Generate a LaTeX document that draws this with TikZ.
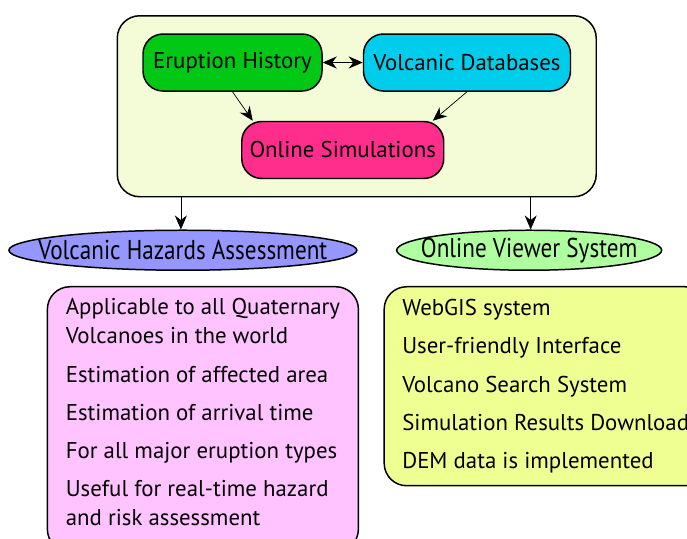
\documentclass[tikz,border=0pt]{standalone}
\usepackage{fontspec}
\setmainfont{PT Sans}
\newfontfamily\narrowfont[FakeStretch=0.85]{PT Sans}
\usetikzlibrary{shapes,arrows,positioning,calc,fit,backgrounds}
\usetikzlibrary{arrows.meta}
\tikzset{>={Stealth[width=2.4mm,length=2.8mm]}}

\definecolor{eruptgreen}{RGB}{0,200,20}
\definecolor{dbcyan}{RGB}{0,204,235}
\definecolor{simpink}{RGB}{255,45,140}
\definecolor{framefill}{RGB}{244,252,215}
\definecolor{hazblue}{RGB}{150,150,255}
\definecolor{viewgreen}{RGB}{175,255,160}
\definecolor{hazlistfill}{RGB}{255,195,255}
\definecolor{viewlistfill}{RGB}{240,255,145}

\begin{document}
\begin{tikzpicture}[every node/.style={text centered, draw, line width=0.85pt}, node distance=0.58cm and 0.8cm,
    module/.style={rectangle, rounded corners=0.4cm, minimum height=1.14cm, font=\fontsize{13}{15}\selectfont},
    output/.style={ellipse, inner sep=0pt, minimum height=0.8cm, font=\narrowfont\fontsize{15.5}{17}\selectfont},
    itemlist/.style={rectangle, rounded corners=0.45cm, align=left, font=\fontsize{13}{16.4}\selectfont}]
    \useasboundingbox (0,0) rectangle (13.74,-10.76);
    \clip (0,0) rectangle (13.74,-10.76);

    \node[module, fill=eruptgreen, minimum width=3.58cm] (hist) at (4.65,-1.25) {Eruption History};
    \node[module, fill=dbcyan, minimum width=4.14cm, right=of hist] (dbase) {Volcanic Databases};
    \coordinate (mid) at ($(hist.south east)!0.5!(dbase.south west)$);
    \node[module, fill=simpink, minimum width=4.04cm, below=of mid] (sim) {Online Simulations};

    % the common frame round the three modules
    \begin{scope}[on background layer]
        \node[fit=(hist)(dbase)(sim), fill=framefill, rounded corners=0.45cm, inner xsep=0.5cm, inner ysep=0.35cm] (frame) {};
    \end{scope}
    \coordinate (outL) at ($(frame.south west)!0.134!(frame.south east)$);
    \coordinate (outR) at ($(frame.south west)!0.862!(frame.south east)$);

    \node[output, fill=hazblue, minimum width=6.96cm, below=0.64cm of outL, xshift=0.04cm] (haz) {\makebox[0pt]{Volcanic Hazards Assessment}};
    \node[output, fill=viewgreen, minimum width=5.3cm, below=0.64cm of outR, xshift=-0.03cm] (viewer) {\makebox[0pt]{Online Viewer System}};

    % lists; the last rule lifts the text a little inside the box
    \node[itemlist, fill=hazlistfill, minimum width=6.22cm, minimum height=5.3cm, below=0.3cm of haz, xshift=0.4cm] (hazlist)
        {Applicable to all Quaternary\\Volcanoes in the world\\[5.4pt]
         Estimation of affected area\\[5.4pt]
         Estimation of arrival time\\[5.4pt]
         For all major eruption types\\[5.4pt]
         Useful for real-time hazard\\and risk assessment\rule[-8pt]{0pt}{0pt}};
    \node[itemlist, fill=viewlistfill, minimum width=6.46cm, minimum height=3.98cm, below=0.3cm of viewer, xshift=0.33cm] (viewlist)
        {WebGIS system\\[5.4pt]
         User-friendly Interface\\[5.4pt]
         Volcano Search System\\[5.4pt]
         Simulation Results Download\\[5.4pt]
         DEM data is implemented};

    \draw[<->] (hist) -- (dbase);
    \draw[->] (hist.south) -- (sim.162);
    \draw[->] (dbase.south) -- (sim.18);
    \draw[->] (outL) -- (haz.north -| outL);
    \draw[->] (outR) -- (viewer.north -| outR);
\end{tikzpicture}
\end{document}
